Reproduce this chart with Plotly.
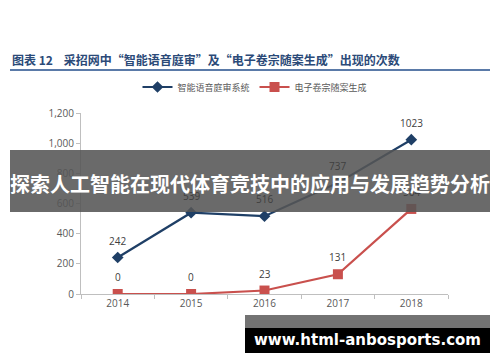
import plotly.graph_objects as go

years = ["2014", "2015", "2016", "2017", "2018"]
voice_trial = [242, 539, 516, 737, 1023]
e_dossier = [0, 0, 23, 131, 564]
series_names = ["智能语音庭审系统", "电子卷宗随案生成"]
y_ticks = [0, 200, 400, 600, 800, 1000, 1200]
y_tick_labels = ["0", "200", "400", "600", "800", "1,000", "1,200"]

# page body has an 8px default margin; lay out in page pixels and compensate
OFF = 8
W, H = 500 - OFF, 362 - OFF
L, R, T, B = 81 - OFF, 52, 113 - OFF, 68
PW, PH = W - L - R, H - T - B

def px(x):
    return (x - OFF - L) / PW

def py(y):
    return (H - B - (y - OFF)) / PH

BLUE = "#1f3f66"
RED = "#c9504d"
CJK = "Noto Sans CJK SC"

fig = go.Figure()
fig.add_trace(go.Scatter(x=years, y=voice_trial, name=series_names[0], mode="lines+markers",
                         line=dict(color=BLUE, width=2.2),
                         marker=dict(symbol="diamond", size=9, color=BLUE)))
fig.add_trace(go.Scatter(x=years, y=e_dossier, name=series_names[1], mode="lines+markers",
                         line=dict(color=RED, width=2.2),
                         marker=dict(symbol="square", size=10, color=RED)))

annotations = []
for i, v in enumerate(voice_trial):
    annotations.append(dict(x=i, y=v, xref="x", yref="y", text=str(v), showarrow=False, yshift=17,
                            font=dict(size=10, color="#404040", family="Open Sans")))
for i, v in enumerate(e_dossier):
    annotations.append(dict(x=i, y=v, xref="x", yref="y", text=str(v), showarrow=False, yshift=17,
                            font=dict(size=10, color="#404040", family="Open Sans")))

# title
annotations.append(dict(xref="paper", yref="paper", x=px(10), y=py(60), xanchor="left", yanchor="middle",
                        text="<b>图表 12    采招网中“智能语音庭审”及“电子卷宗随案生成”出现的次数</b>",
                        showarrow=False, font=dict(size=12, color="#2b4a78", family=CJK)))
# banner text
annotations.append(dict(xref="paper", yref="paper", x=px(250), y=py(183), xanchor="center", yanchor="middle",
                        text="<b>探索人工智能在现代体育竞技中的应用与发展趋势分析</b>",
                        showarrow=False, font=dict(size=20, color="white", family=CJK)))
annotations.append(dict(xref="paper", yref="paper", x=px(367), y=py(340), xanchor="center", yanchor="middle",
                        text="<b>www.html-anbosports.com</b>",
                        showarrow=False, font=dict(size=15, color="white", family="DejaVu Sans")))

shapes = [
    dict(type="line", xref="paper", yref="paper", x0=px(10), x1=px(490), y0=py(70), y1=py(70),
         line=dict(color="#5a7aa8", width=2)),
    dict(type="rect", xref="paper", yref="paper", x0=px(10), x1=px(490), y0=py(150), y1=py(212),
         fillcolor="rgba(85,85,85,0.88)", line=dict(width=0), layer="above"),
    dict(type="rect", xref="paper", yref="paper", x0=px(245), x1=px(490), y0=py(315), y1=py(328),
         fillcolor="rgba(90,90,90,0.85)", line=dict(width=0), layer="above"),
    dict(type="rect", xref="paper", yref="paper", x0=px(245), x1=px(490), y0=py(328), y1=py(353),
         fillcolor="black", line=dict(width=0), layer="above"),
]

fig.update_layout(
    width=W, height=H, margin=dict(l=L, r=R, t=T, b=B),
    paper_bgcolor="white", plot_bgcolor="white",
    showlegend=True,
    legend=dict(orientation="h", x=px(255), xanchor="center", y=py(87), yanchor="middle",
                font=dict(size=9, color="#595959", family=CJK), itemwidth=30,
                bgcolor="rgba(0,0,0,0)"),
    annotations=annotations, shapes=shapes,
    font=dict(family="Open Sans", color="#595959"),
)
fig.update_xaxes(type="category", range=[-0.5, 4.5], showline=True, linecolor="#bfbfbf", linewidth=1,
                 ticks="outside", tickson="boundaries", ticklen=4, tickcolor="#bfbfbf",
                 showgrid=False, tickfont=dict(size=10, color="#595959"), fixedrange=True)
fig.update_yaxes(range=[0, 1200], tickvals=y_ticks, ticktext=y_tick_labels, showline=True,
                 linecolor="#bfbfbf", linewidth=1, ticks="outside", ticklen=4, tickcolor="#bfbfbf",
                 showgrid=False, zeroline=False, tickfont=dict(size=10, color="#595959"))

fig.write_html("out.html")
